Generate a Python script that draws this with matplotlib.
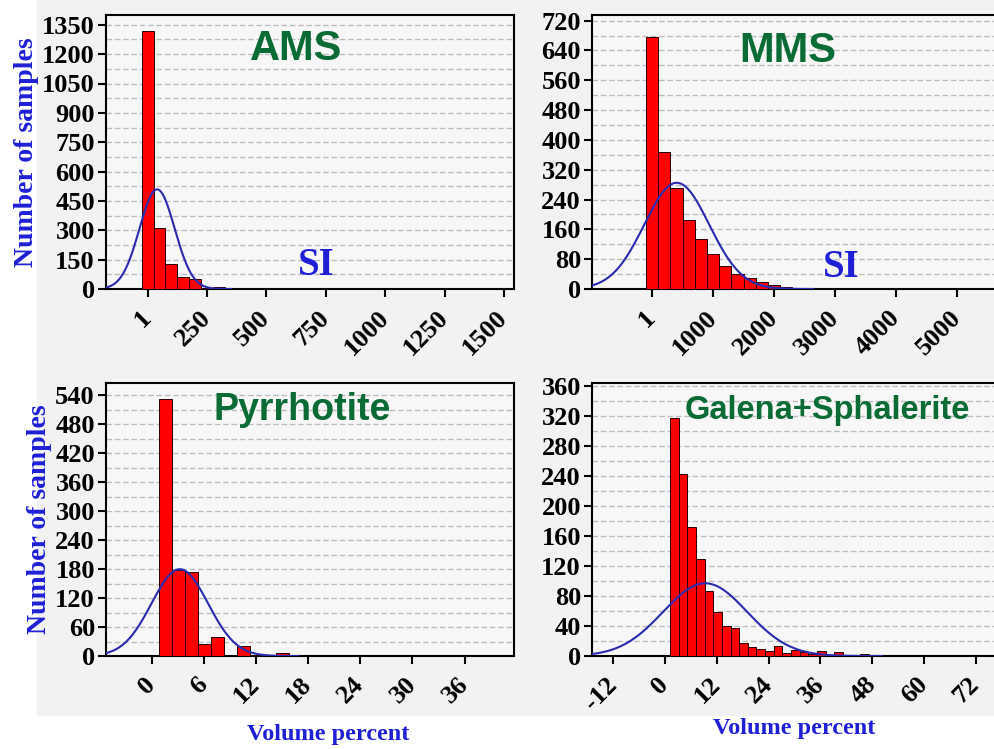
import matplotlib.pyplot as plt
import numpy as np
from matplotlib.patches import Rectangle
from matplotlib.ticker import MultipleLocator

# histogram counts
ams_counts = [1320, 312, 130, 60, 52, 3, 12]
ams_start, ams_width = -25, 50
ams_mean, ams_sd = 40, 74

mms_counts = [677, 367, 272, 185, 135, 93, 62, 40, 30, 20, 10, 6, 3]
mms_start, mms_width = -100, 200
mms_mean, mms_sd = 405, 532

pyr_counts = [532, 177, 173, 24, 39, 0, 21, 2, 1, 7]
pyr_start, pyr_width = 0.8, 1.5
pyr_mean, pyr_sd = 3.2, 3.25

gs_counts = [318, 243, 172, 129, 87, 59, 40, 37, 18, 12, 9, 7, 14, 4, 8, 6,
             3, 7, 1, 5, 1, 1, 3, 2]
gs_start, gs_width = 1.2, 2.0
gs_mean, gs_sd = 9.3, 9.76

ams_xticks = [1, 250, 500, 750, 1000, 1250, 1500]
mms_xticks = [1, 1000, 2000, 3000, 4000, 5000]
pyr_xticks = [0, 6, 12, 18, 24, 30, 36]
gs_xticks = [-12, 0, 12, 24, 36, 48, 60, 72]

W, H = 995, 749
fig = plt.figure(figsize=(W / 100, H / 100), dpi=100, facecolor="white")
fig.patches.append(Rectangle((37 / W, 1 - 715 / H), 1, 715 / H,
                             transform=fig.transFigure, color="#f2f2f2", zorder=-10))

serif = "Liberation Serif"
sans = "Liberation Sans"
green = "#0b6b35"
blue = "#1f1fd8"


def panel(rect, counts, start, width, mean, sd, xlim, ylim, xticks, ystep, title,
          tpos, tsize, si=None, ylabel=False, xlabel=None):
    ax = fig.add_axes(rect)
    ax.set_facecolor("#f7f7f7")
    counts = np.array(counts)
    lefts = start + width * np.arange(len(counts))
    ax.bar(lefts, counts, width=width, align="edge", color="#ff0000",
           edgecolor="#2a0000", linewidth=0.7, zorder=3)
    # fitted normal curve
    xs = np.linspace(xlim[0], mean + 4.2 * sd, 300)
    ys = counts.sum() * width / (sd * np.sqrt(2 * np.pi)) * np.exp(-0.5 * ((xs - mean) / sd) ** 2)
    ax.plot(xs, ys, color="#2b2bb0", lw=1.5, zorder=4)
    ax.set_xlim(*xlim)
    ax.set_xticks(xticks)
    ax.set_xticklabels([str(t) for t in xticks], rotation=45, ha="right", va="center",
                       rotation_mode="anchor")
    ax.yaxis.set_major_locator(MultipleLocator(ystep))
    ax.yaxis.set_minor_locator(MultipleLocator(ystep / 2))
    ax.set_ylim(*ylim)
    ax.grid(axis="y", which="both", color="#bdbdbd", linestyle=(0, (4, 2)), lw=1, zorder=1)
    ax.set_axisbelow(True)
    ax.tick_params(which="major", direction="out", length=6, width=1.5, labelsize=19)
    ax.tick_params(axis="y", pad=2)
    ax.tick_params(axis="x", pad=12)
    ax.tick_params(which="minor", length=0)
    for lab in ax.get_xticklabels() + ax.get_yticklabels():
        lab.set_fontfamily(serif)
        lab.set_fontweight("bold")
    for s in ax.spines.values():
        s.set_linewidth(1.5)
    ax.text(tpos[0], tpos[1], title, transform=ax.transAxes, ha="center", va="center",
            fontsize=tsize, fontweight="bold", family=sans, color=green, zorder=5)
    if si:
        ax.text(si[0], si[1], "SI", transform=ax.transAxes, ha="center", va="center",
                fontsize=28, fontweight="bold", family=serif, color=blue, zorder=5)
    if ylabel:
        ax.set_ylabel("Number of samples", fontsize=20, fontweight="bold", family=serif,
                      color=blue, labelpad=2)
    if xlabel:
        ax.text(xlabel[0], xlabel[1], "Volume percent", transform=ax.transAxes,
                ha="center", va="center", fontsize=17.5, fontweight="bold",
                family=serif, color=blue)
    return ax


panel([106 / W, 1 - 289 / H, 408 / W, 274 / H], ams_counts, ams_start, ams_width,
      ams_mean, ams_sd, (-175, 1542), (0, 1400), ams_xticks, 150, "AMS",
      (0.466, 0.875), 30, si=(0.514, 0.085), ylabel=True)
panel([592 / W, 1 - 289 / H, 408 / W, 274 / H], mms_counts, mms_start, mms_width,
      mms_mean, mms_sd, (-983, 5700), (0, 735), mms_xticks, 80, "MMS",
      (0.48, 0.87), 30, si=(0.61, 0.08))
panel([106 / W, 1 - 656 / H, 408 / W, 273 / H], pyr_counts, pyr_start, pyr_width,
      pyr_mean, pyr_sd, (-5.3, 41.7), (0, 565), pyr_xticks, 60, "Pyrrhotite",
      (0.48, 0.9), 27, ylabel=True, xlabel=(0.544, -0.289))
panel([592 / W, 1 - 656 / H, 408 / W, 273 / H], gs_counts, gs_start, gs_width,
      gs_mean, gs_sd, (-16.9, 77.6), (0, 364), gs_xticks, 40, "Galena+Sphalerite",
      (0.577, 0.9), 23.5, xlabel=(0.495, -0.267))

fig.savefig("out.png", dpi=100, facecolor=fig.get_facecolor())
